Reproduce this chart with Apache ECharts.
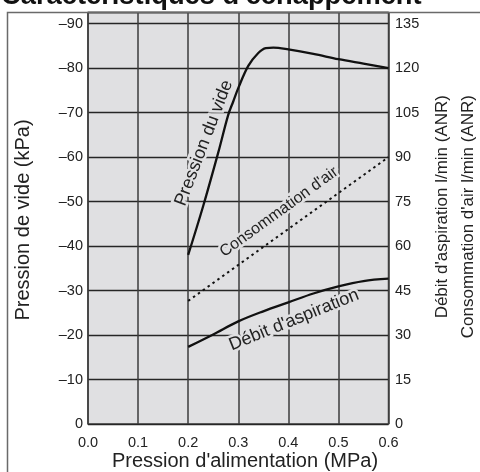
<!DOCTYPE html>
<html>
<head>
<meta charset="utf-8">
<script src="https://cdn.jsdelivr.net/npm/echarts@6/dist/echarts.min.js"></script>
<style>
html,body{margin:0;padding:0;background:#fff;}
#c{width:480px;height:472px;}
</style>
</head>
<body>
<div id="c"></div>
<script>
// ---- data ----
var title = "Caractéristiques d'échappement";
var xTitle = "Pression d'alimentation (MPa)";
var yLeftTitle = "Pression de vide (kPa)";
var yRightTitle1 = "Débit d'aspiration l/min (ANR)";
var yRightTitle2 = "Consommation d'air l/min (ANR)";

// Pression du vide (kPa, shown as negative on the left axis)
var vacX = [0.20, 0.23, 0.26, 0.28, 0.29, 0.30, 0.32, 0.34, 0.355, 0.37, 0.40, 0.45, 0.50, 0.55, 0.60];
var vacY = [38, 49, 61, 69.5, 72.5, 75.5, 80.5, 83.4, 84.5, 84.6, 84.2, 83.2, 82.0, 81.0, 80.0];

// Consommation d'air (l/min ANR, right axis)
var airX = [0.20, 0.60];
var airY = [41.5, 90];

// Débit d'aspiration (l/min ANR, right axis)
var flowX = [0.20, 0.25, 0.30, 0.35, 0.40, 0.45, 0.50, 0.55, 0.60];
var flowY = [26, 30.2, 34.6, 38, 41, 44, 46.4, 48.2, 49];

var curveLabels = ["Pression du vide", "Consommation d'air", "Débit d'aspiration"];

function zip(a, b) { return a.map(function (v, i) { return [v, b[i]]; }); }

var FONT = "'Liberation Sans', Arial, sans-serif";
var BG = '#e0e0e2';

// label with a halo drawn underneath (two passes)
function haloText(txt, x, y, deg, size) {
  var base = {x: x, y: y, rotation: deg * Math.PI / 180};
  var halo = Object.assign({type: 'text', z: 1, style: {text: txt, font: size + "px " + FONT, fill: BG,
    stroke: BG, lineWidth: 5, align: 'center', verticalAlign: 'middle'}}, base);
  var main = Object.assign({type: 'text', z: 4, style: {text: txt, font: size + "px " + FONT, fill: '#222',
    align: 'center', verticalAlign: 'middle'}}, base);
  return [halo, main];
}

var chart = echarts.init(document.getElementById('c'), null, {renderer: 'canvas'});
var graphics = [
  // outer frame (left + top)
  {type: 'polyline', z: 5, shape: {points: [[7.5, 472], [7.5, 12.5], [480, 12.5]]},
   style: {stroke: '#6a6a6a', lineWidth: 1.5, fill: null}},
  {type: 'text', z: 6, x: 1, y: -3.5,
   style: {text: title, font: "bold 27.3px " + FONT, fill: '#111', align: 'left', verticalAlign: 'middle'}},
  {type: 'text', z: 6, x: 245, y: 461,
   style: {text: xTitle, font: "20px " + FONT, fill: '#222', align: 'center', verticalAlign: 'middle'}},
  {type: 'text', z: 6, x: 23, y: 220, rotation: Math.PI / 2,
   style: {text: yLeftTitle, font: "20px " + FONT, fill: '#222', align: 'center', verticalAlign: 'middle'}},
  {type: 'text', z: 6, x: 442, y: 95, rotation: Math.PI / 2,
   style: {text: yRightTitle1, font: "17px " + FONT, fill: '#222', align: 'right', verticalAlign: 'middle'}},
  {type: 'text', z: 6, x: 468, y: 95, rotation: Math.PI / 2,
   style: {text: yRightTitle2, font: "17px " + FONT, fill: '#222', align: 'right', verticalAlign: 'middle'}}
].concat(
  haloText(curveLabels[0], 204, 143, 69, 18),
  haloText(curveLabels[1], 279, 212, 36, 16),
  haloText(curveLabels[2], 294, 320, 22, 18)
);

chart.setOption({
  animation: false,
  backgroundColor: '#fff',
  textStyle: {fontFamily: FONT},
  grid: {
    left: 88, right: 91.5, top: 12.5, bottom: 48,
    show: true, backgroundColor: BG, borderColor: '#444', borderWidth: 1.5
  },
  xAxis: {
    type: 'value', min: 0, max: 0.6, interval: 0.1,
    axisLine: {show: false}, axisTick: {show: false},
    splitLine: {show: true, lineStyle: {color: '#3c3c3c', width: 1.5}},
    axisLabel: {
      margin: 11, color: '#222', fontSize: 14.5, fontFamily: FONT,
      formatter: function (v) { return v.toFixed(1); }
    }
  },
  yAxis: [{
    type: 'value', min: 0, max: 92.5, interval: 10, position: 'left',
    axisLine: {show: false}, axisTick: {show: false},
    splitLine: {show: true, lineStyle: {color: '#262626', width: 1.3}},
    axisLabel: {
      margin: 5, color: '#222', fontSize: 14.5, fontFamily: FONT,
      formatter: function (v) {
        if (v === 0) return '0';
        return (Math.abs(v % 10) < 1e-9) ? '–' + v : '';
      }
    }
  }, {
    type: 'value', min: 0, max: 138.75, interval: 15, position: 'right',
    axisLine: {show: false}, axisTick: {show: false},
    splitLine: {show: false},
    axisLabel: {
      margin: 6.5, color: '#222', fontSize: 14.5, fontFamily: FONT,
      formatter: function (v) { return (Math.abs(v % 15) < 1e-9) ? String(v) : ''; }
    }
  }],
  series: [{
    name: curveLabels[0], type: 'line', yAxisIndex: 0,
    data: zip(vacX, vacY), smooth: 0.35, showSymbol: false, z: 3,
    lineStyle: {color: '#111', width: 2.3}
  }, {
    name: curveLabels[1], type: 'line', yAxisIndex: 1,
    data: zip(airX, airY), showSymbol: false, z: 3,
    lineStyle: {color: '#111', width: 2, type: [2.5, 3.5]}
  }, {
    name: curveLabels[2], type: 'line', yAxisIndex: 1,
    data: zip(flowX, flowY), smooth: 0.35, showSymbol: false, z: 3,
    lineStyle: {color: '#111', width: 2.3}
  }],
  graphic: graphics
});
</script>
</body>
</html>
